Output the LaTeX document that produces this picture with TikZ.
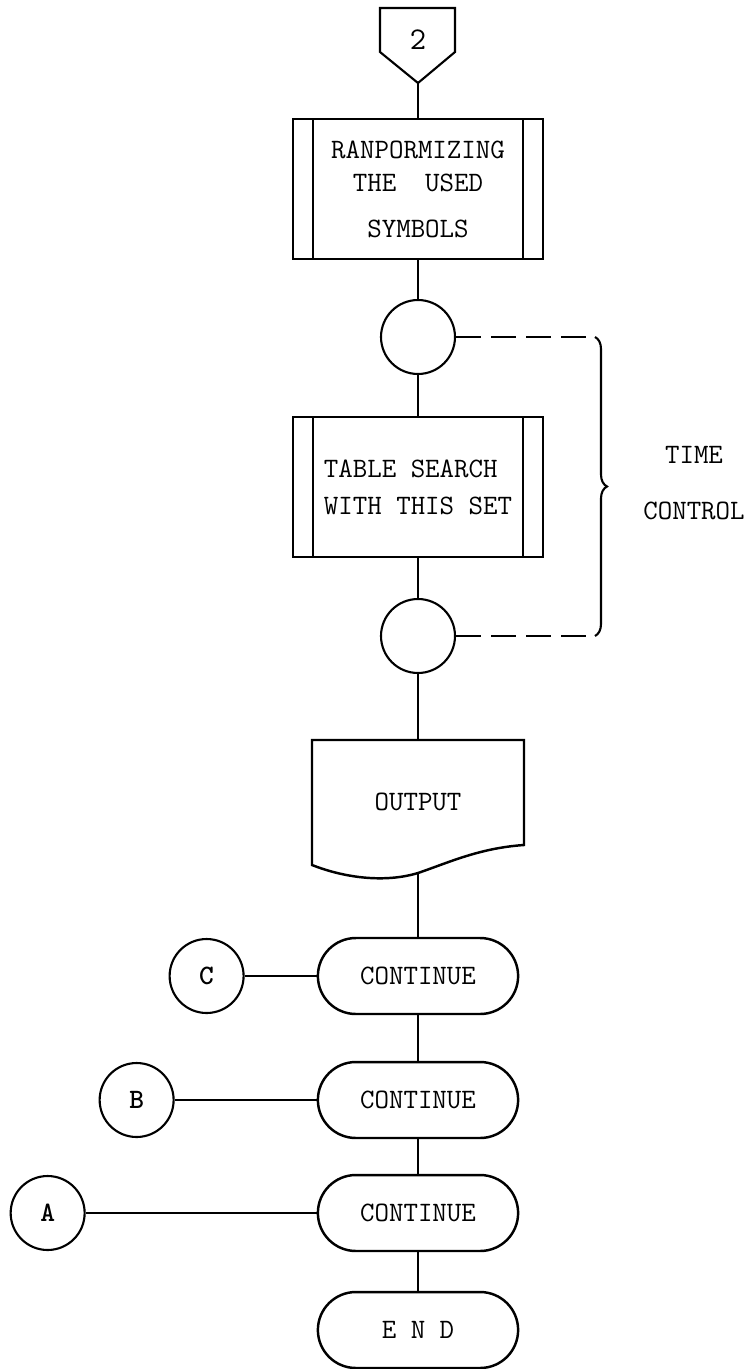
\documentclass[tikz,border=0pt]{standalone}
\usepackage{tikz}
\usetikzlibrary{
  positioning,
  shapes.misc,
  decorations.pathreplacing
}

\tikzset{
  every node/.style={font=\ttfamily\fontsize{16}{19}\selectfont},
  predef/.style={draw, line width=1.4pt, minimum width=5cm, minimum height=2.8cm, inner sep=0pt,
    path picture={
      \draw[line width=1.4pt] ([xshift=0.4cm]path picture bounding box.north west) -- ([xshift=0.4cm]path picture bounding box.south west);
      \draw[line width=1.4pt] ([xshift=-0.4cm]path picture bounding box.north east) -- ([xshift=-0.4cm]path picture bounding box.south east);
    }},
  joint/.style={draw, circle, line width=1.2pt, minimum size=1.48cm, inner sep=0pt},
  term/.style={draw, rounded rectangle, line width=1.4pt, minimum width=4.24cm, minimum height=1.52cm},
  link/.style={line width=0.9pt},
  timing/.style={line width=1.2pt, dash pattern=on 0.5cm off 0.2cm}
}

\begin{document}
\begin{tikzpicture}[x=0.02cm, y=-0.02cm]
\useasboundingbox (0,0) rectangle (754,1369);

% off-page entry
\draw[line width=1.2pt] (380,8) -- (455,8) -- (455,52) -- (418,83) -- (380,52) -- cycle;
\node[font=\ttfamily\fontsize{18}{20}\selectfont] (pg) at (418,40) {2};
\coordinate (pgtip) at (418,83);

\node[predef, align=center] (ran) at (418,189) {RANPORMIZING\\THE\ \ USED\\[7pt]SYMBOLS};
\node[joint] (t1) at (418,337) {};
\node[predef, align=left] (tab) at (418,487) {TABLE SEARCH\\[2pt]WITH THIS SET};
\node[joint] (t2) at (418,636) {};

% time control loop
\coordinate (bt) at (595,337);
\coordinate (bb) at (595,636);
\draw[timing] (t1) -- (bt);
\draw[timing] (t2) -- (bb);
\draw[line width=1.2pt, decorate, decoration={brace, amplitude=0.24cm}] (bt) -- (bb);
\node[align=center] (tc) at (694,483) {TIME\\[13pt]CONTROL};

% output document
\node[minimum width=4.24cm, minimum height=2.5cm] (out) at (418,802) {OUTPUT};
\draw[line width=1.4pt] (312,740) -- (524,740) -- (524,845)
  .. controls (480,848) and (450,862) .. (418,873)
  .. controls (385,883) and (345,878) .. (312,865) -- cycle;
\coordinate (outb) at (418,873);

\node[term] (cont1) at (418,976) {CONTINUE};
\node[term] (cont2) at (418,1100) {CONTINUE};
\node[term] (cont3) at (418,1213) {CONTINUE};
\node[term] (fin) at (418,1330) {E N D};

\node[joint, left=1.44cm of cont1] (cc) {\bfseries C};
\node[joint, left=2.84cm of cont2] (cb) {\bfseries B};
\node[joint, left=4.62cm of cont3] (ca) {\bfseries A};

\draw[link] (pgtip) -- (ran);
\draw[link] (ran) -- (t1);
\draw[link] (t1) -- (tab);
\draw[link] (tab) -- (t2);
\draw[link] (t2) -- (out.north);
\draw[link] (outb) -- (cont1);
\draw[link] (cont1) -- (cont2);
\draw[link] (cont2) -- (cont3);
\draw[link] (cont3) -- (fin);
\draw[link] (cc) -- (cont1);
\draw[link] (cb) -- (cont2);
\draw[link] (ca) -- (cont3);
\end{tikzpicture}
\end{document}
